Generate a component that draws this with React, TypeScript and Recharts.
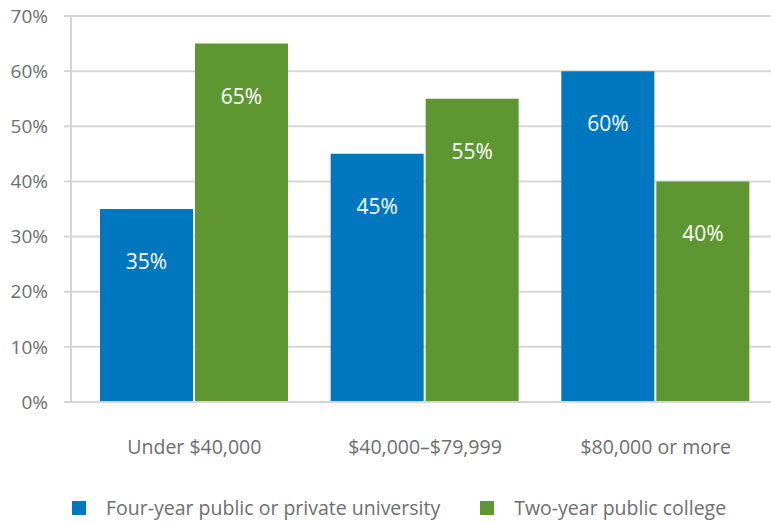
import { BarChart, Bar, XAxis, YAxis, CartesianGrid, LabelList } from 'recharts'

const categories = ['Under $40,000', '$40,000–$79,999', '$80,000 or more']
const fourYear = [35, 45, 60]
const twoYear = [65, 55, 40]
const yTicks = [0, 10, 20, 30, 40, 50, 60, 70]

const seriesNames = ['Four-year public or private university', 'Two-year public college']
const colors = ['#0077bf', '#5e9732']

const data = categories.map((name, i) => ({ name, fourYear: fourYear[i], twoYear: twoYear[i] }))

const FONT = '"Open Sans", "Noto Sans", sans-serif'
const GRID = '#d6d6d6'
const TEXT = '#6d6e70'

const InsideLabel = (props: any) => {
  const { x, y, width, value } = props
  return (
    <text
      x={x + width / 2}
      y={y + 52}
      fill="#fff"
      fontSize={21}
      fontFamily={FONT}
      textAnchor="middle"
      dominantBaseline="central"
    >
      {value}%
    </text>
  )
}

// legend drawn as plain html under the chart so it doesn't eat plot height
const ChartLegend = () => (
  <div
    style={{
      position: 'absolute',
      top: 494,
      left: 0,
      display: 'flex',
      alignItems: 'center',
      paddingLeft: 72,
      fontFamily: FONT,
      fontSize: 19.5,
      color: TEXT,
    }}
  >
    {seriesNames.map((n, i) => (
      <div key={n} style={{ display: 'flex', alignItems: 'center', marginRight: 40 }}>
        <span style={{ width: 14, height: 14, background: colors[i], display: 'inline-block', marginRight: 20 }} />
        <span>{n}</span>
      </div>
    ))}
  </div>
)

export default function App() {
  return (
    <div style={{ position: 'relative', width: 771, height: 523 }}>
      <style>{`body{margin:0}`}</style>
      <BarChart
        width={771}
        height={523}
        data={data}
        margin={{ top: 16, right: 0, bottom: 91, left: 0 }}
        barGap={2}
        barSize={93}
      >
        <CartesianGrid vertical={false} stroke={GRID} strokeWidth={2} />
        <XAxis
          dataKey="name"
          height={30}
          padding={{ left: 8, right: 0 }}
          axisLine={{ stroke: GRID, strokeWidth: 2 }}
          tickLine={false}
          tickSize={0}
          tickMargin={38}
          tick={{ fill: TEXT, fontSize: 19.5, fontFamily: FONT }}
        />
        <YAxis
          width={71}
          domain={[0, 70]}
          ticks={yTicks}
          tickFormatter={(v) => `${v}%`}
          axisLine={{ stroke: GRID, strokeWidth: 2 }}
          tickLine={{ stroke: GRID, strokeWidth: 2 }}
          tickSize={7}
          tickMargin={16}
          tick={{ fill: TEXT, fontSize: 19, fontFamily: FONT }}
        />
        <Bar dataKey="fourYear" name={seriesNames[0]} fill={colors[0]} isAnimationActive={false}>
          <LabelList dataKey="fourYear" content={InsideLabel} />
        </Bar>
        <Bar dataKey="twoYear" name={seriesNames[1]} fill={colors[1]} isAnimationActive={false}>
          <LabelList dataKey="twoYear" content={InsideLabel} />
        </Bar>
      </BarChart>
      <ChartLegend />
    </div>
  )
}
